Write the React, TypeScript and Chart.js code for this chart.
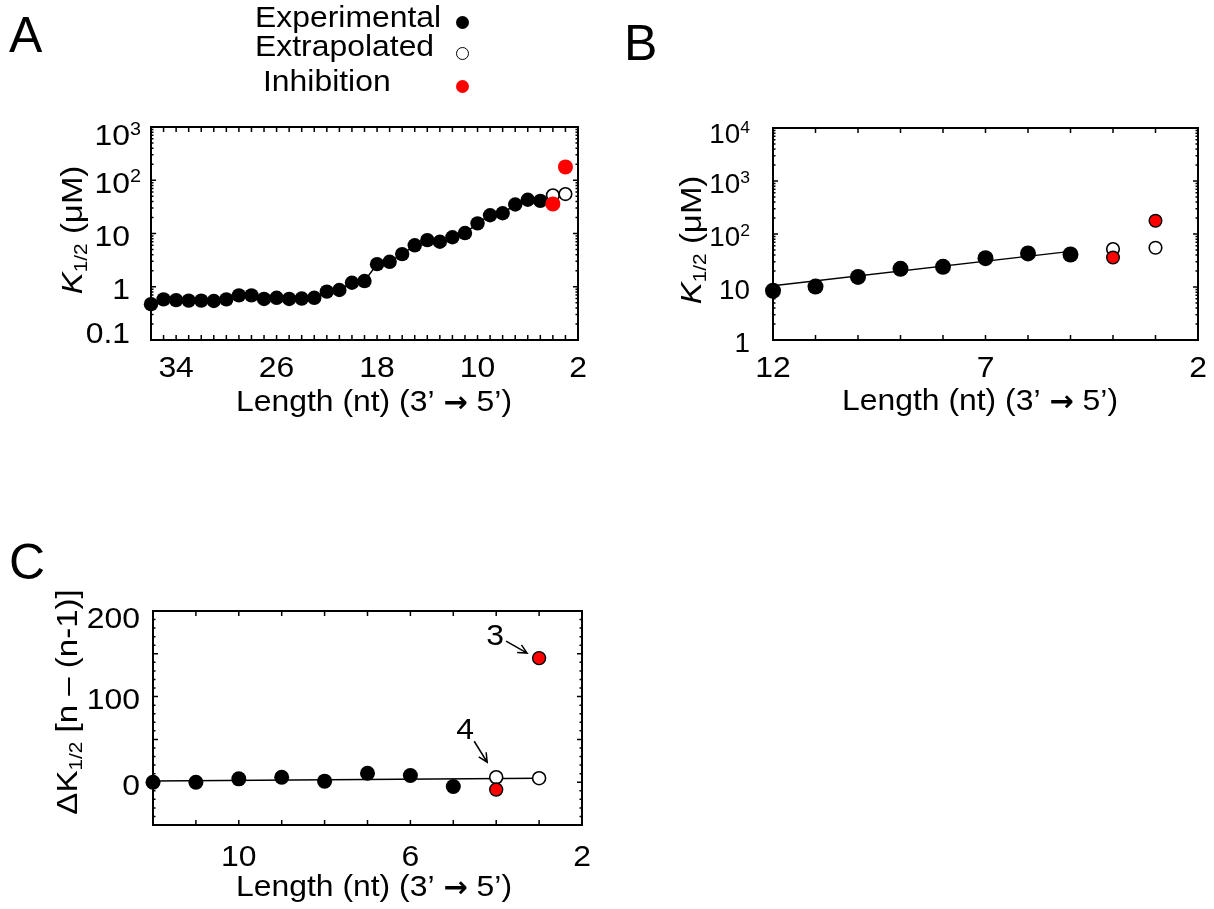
import React, { useEffect, useRef } from 'react';
import { Chart, registerables } from 'chart.js';

Chart.register(...registerables);

// ---------------- data ----------------
const expLengths = [36, 35, 34, 33, 32, 31, 30, 29, 28, 27, 26, 25, 24, 23, 22, 21, 20, 19, 18, 17, 16, 15, 14, 13, 12, 11, 10, 9, 8, 7, 6, 5];
const expK = [0.47, 0.58, 0.56, 0.55, 0.55, 0.54, 0.58, 0.69, 0.69, 0.59, 0.62, 0.59, 0.6, 0.62, 0.81, 0.87, 1.19, 1.28, 2.66, 2.94, 4.1, 6.0, 7.5, 7.0, 8.5, 10.2, 15.5, 22, 24, 35, 43, 41];
const extrapLengths = [4, 3];
const extrapK = [52, 55];
const inhibLengths = [4, 3];
const inhibK = [36, 178];
const fitBLengths = [12, 5];
const fitBK = [10.6, 47];

const deltaLengths = [12, 11, 10, 9, 8, 7, 6, 5];
const deltaK = [0, 0, 3.9, 5.8, 1.2, 10.5, 7.8, -5];
const deltaExtrapLengths = [4, 3];
const deltaExtrapK = [5.8, 4.7];
const deltaInhibLengths = [4, 3];
const deltaInhibK = [-8.6, 145];
const fitCLengths = [12, 3];
const fitCK = [1.5, 4.7];
const annotLabels = ['3', '4'];
const annotLengths = [3, 4];
const annotK = [145, 5.8];

const ticksAX = [34, 26, 18, 10, 2];
const ticksAY = [0.1, 1, 10, 100, 1000];
const ticksBX = [12, 7, 2];
const ticksBY = [1, 10, 100, 1000, 10000];
const ticksCX = [10, 6, 2];
const ticksCY = [0, 100, 200];

const legendLabels = ['Experimental', 'Extrapolated', 'Inhibition'];
const panelLetters = ['A', 'B', 'C'];
const xTitleParts = ['Length (nt) (3\u2019 ', '\u2192', ' 5\u2019)'];

// ---------------- drawing helpers ----------------
const W = 1214;
const H = 909;
const FONT = '"Liberation Sans", Arial, Helvetica, sans-serif';
const ARROW_FONT = '"DejaVu Sans", sans-serif';
const SX = 1.1;
const FS = 29;

type Run = { t: string; size: number; dy?: number; italic?: boolean; family?: string; bold?: boolean; sx?: number };

function setFont(ctx: CanvasRenderingContext2D, r: Run) {
  ctx.font = `${r.italic ? 'italic ' : ''}${r.bold ? 'bold ' : ''}${r.size}px ${r.family || FONT}`;
}
function runsWidth(ctx: CanvasRenderingContext2D, runs: Run[]) {
  let w = 0;
  for (const r of runs) {
    setFont(ctx, r);
    w += ctx.measureText(r.t).width * (r.sx ?? SX);
  }
  return w;
}
function drawRuns(ctx: CanvasRenderingContext2D, runs: Run[], x: number, y: number, align: string) {
  const w = runsWidth(ctx, runs);
  let cx = align === 'right' ? x - w : align === 'center' ? x - w / 2 : x;
  for (const r of runs) {
    setFont(ctx, r);
    const sx = r.sx ?? SX;
    const rw = ctx.measureText(r.t).width;
    ctx.save();
    ctx.translate(cx, y + (r.dy || 0));
    ctx.scale(sx, 1);
    ctx.textAlign = 'left';
    ctx.textBaseline = 'alphabetic';
    ctx.fillStyle = '#000';
    ctx.fillText(r.t, 0, 0);
    ctx.restore();
    cx += rw * sx;
  }
}

const xTitleRuns: Run[] = [
  { t: xTitleParts[0], size: FS },
  { t: xTitleParts[1], size: 29, family: ARROW_FONT, bold: true, sx: 1.0, dy: 1 },
  { t: xTitleParts[2], size: FS },
];

const pts = (xs: number[], ys: number[]) => xs.map((x, i) => ({ x, y: ys[i] }));

type PanelCfg = {
  key: string;
  logY: boolean;
  xLabels: number[];
  yLabels: number[];
  labelRight: number;
  alignBase: boolean;
  yFs: number;
  ySx: number;
  xLabelDy: number;
  clampTop: number;
  clampBottom: number;
  xTitleX: number;
  xTitleY: number;
  yTitleX: number;
  yTitleY: number;
  yTitle: Run[];
  annotations?: boolean;
};

function panelPlugin(cfg: PanelCfg) {
  return {
    id: 'panel' + cfg.key,
    beforeDatasetsDraw(chart: any) {
      const { ctx, chartArea: a } = chart;
      const xs = chart.scales.x;
      const ys = chart.scales.y;
      ctx.save();
      ctx.strokeStyle = '#000';
      ctx.lineWidth = 1.5;
      ctx.beginPath();
      for (let v = Math.ceil(xs.min); v <= xs.max; v += 1) {
        const px = xs.getPixelForValue(v);
        ctx.moveTo(px, a.bottom);
        ctx.lineTo(px, a.bottom - 5);
        ctx.moveTo(px, a.top);
        ctx.lineTo(px, a.top + 5);
      }
      const yt: [number, number][] = [];
      if (cfg.logY) {
        const e0 = Math.round(Math.log10(ys.min));
        const e1 = Math.round(Math.log10(ys.max));
        for (let e = e0; e <= e1; e++) {
          const d = Math.pow(10, e);
          yt.push([d, 5]);
          if (e < e1) for (let k = 2; k <= 9; k++) yt.push([k * d, 2.5]);
        }
      } else {
        for (let v = ys.min; v <= ys.max; v += 10) yt.push([v, v % 50 === 0 ? 5 : 2.5]);
      }
      for (const [v, len] of yt) {
        const py = ys.getPixelForValue(v);
        ctx.moveTo(a.left, py);
        ctx.lineTo(a.left + len, py);
        ctx.moveTo(a.right, py);
        ctx.lineTo(a.right - len, py);
      }
      ctx.stroke();
      ctx.lineWidth = 2;
      ctx.strokeRect(a.left, a.top, a.right - a.left, a.bottom - a.top);
      ctx.restore();
    },
    afterDraw(chart: any) {
      const { ctx, chartArea: a } = chart;
      const xs = chart.scales.x;
      const ys = chart.scales.y;
      ctx.save();
      // x tick labels
      for (const v of cfg.xLabels) {
        drawRuns(ctx, [{ t: String(v), size: FS }], xs.getPixelForValue(v), a.bottom + cfg.xLabelDy, 'center');
      }
      // y tick labels
      for (const v of cfg.yLabels) {
        let cy = ys.getPixelForValue(v) + 2;
        cy = Math.max(cy, a.top + cfg.clampTop);
        cy = Math.min(cy, a.bottom - cfg.clampBottom);
        const base = cfg.yFs * 0.716 / 2;
        let runs: Run[];
        if (cfg.logY && v >= 100) {
          runs = [
            { t: '10', size: cfg.yFs, sx: cfg.ySx },
            { t: String(Math.round(Math.log10(v))), size: Math.round(cfg.yFs * 0.62), dy: -cfg.yFs * 0.35, sx: cfg.ySx },
          ];
        } else {
          runs = [{ t: String(v), size: cfg.yFs, sx: cfg.ySx }];
        }
        if (cfg.alignBase) {
          const bw = runsWidth(ctx, [runs[0]]);
          drawRuns(ctx, runs, cfg.labelRight - bw, cy + base, 'left');
        } else {
          drawRuns(ctx, runs, cfg.labelRight, cy + base, 'right');
        }
      }
      // x title
      drawRuns(ctx, xTitleRuns, cfg.xTitleX, cfg.xTitleY, 'center');
      // y title (rotated)
      ctx.save();
      ctx.translate(cfg.yTitleX, cfg.yTitleY);
      ctx.rotate(-Math.PI / 2);
      drawRuns(ctx, cfg.yTitle, 0, 0, 'center');
      ctx.restore();
      // annotations
      if (cfg.annotations) {
        const offs = [
          { tx: -44, ty: -12.6, ax0: -33, ay0: -17, ax1: -12, ay1: -5 },
          { tx: -31, ty: -38.7, ax0: -22, ay0: -36, ax1: -9, ay1: -15 },
        ];
        annotLabels.forEach((lab, i) => {
          const px = xs.getPixelForValue(annotLengths[i]);
          const py = ys.getPixelForValue(annotK[i]);
          const o = offs[i];
          drawRuns(ctx, [{ t: lab, size: FS }], px + o.tx, py + o.ty, 'center');
          const x0 = px + o.ax0, y0 = py + o.ay0, x1 = px + o.ax1, y1 = py + o.ay1;
          const ang = Math.atan2(y1 - y0, x1 - x0);
          ctx.strokeStyle = '#000';
          ctx.lineWidth = 1.5;
          ctx.beginPath();
          ctx.moveTo(x0, y0);
          ctx.lineTo(x1, y1);
          ctx.moveTo(x1 - 10 * Math.cos(ang - 0.45), y1 - 10 * Math.sin(ang - 0.45));
          ctx.lineTo(x1, y1);
          ctx.lineTo(x1 - 10 * Math.cos(ang + 0.45), y1 - 10 * Math.sin(ang + 0.45));
          ctx.stroke();
        });
      }
      ctx.restore();
    },
  };
}

function scatterSet(data: any[], r: number, fill: string, bw: number) {
  return {
    data,
    showLine: false,
    pointRadius: r,
    pointHoverRadius: r,
    pointBackgroundColor: fill,
    backgroundColor: fill,
    pointBorderColor: '#000',
    pointBorderWidth: bw,
    borderWidth: bw,
    clip: false,
  };
}
function lineSet(data: any[]) {
  return {
    data,
    showLine: true,
    pointRadius: 0,
    pointHoverRadius: 0,
    borderColor: '#000',
    borderWidth: 1.5,
    fill: false,
    clip: false,
  };
}

function makeChart(canvas: HTMLCanvasElement, datasets: any[], padding: any, scales: any, cfg: PanelCfg) {
  return new Chart(canvas, {
    type: 'scatter',
    data: { datasets },
    options: {
      responsive: false,
      animation: false,
      events: [],
      layout: { padding },
      scales,
      plugins: { legend: { display: false }, tooltip: { enabled: false } },
    } as any,
    plugins: [panelPlugin(cfg) as any],
  });
}

const kTitle: Run[] = [
  { t: 'K', size: 30, italic: true },
  { t: '1/2', size: 19, dy: 5 },
  { t: ' (\u03bcM)', size: 30 },
];
const dTitle: Run[] = [
  { t: '\u0394K', size: 30 },
  { t: '1/2', size: 19, dy: 5 },
  { t: ' [n \u2013 (n-1)]', size: 30 },
];

function buildA(canvas: HTMLCanvasElement) {
  const exp = pts(expLengths, expK);
  return makeChart(
    canvas,
    [
      scatterSet(pts(inhibLengths, inhibK), 7.5, '#ff0000', 0),
      scatterSet(pts(extrapLengths, extrapK), 6.3, '#ffffff', 1.6),
      scatterSet(exp, 7.2, '#000000', 0),
      lineSet(exp),
    ],
    { left: 151, top: 127, right: W - 578, bottom: H - 340 },
    {
      x: { type: 'linear', min: 2, max: 36, reverse: true, display: false },
      y: { type: 'logarithmic', min: 0.1, max: 1000, display: false },
    },
    {
      key: 'A', logY: true, xLabels: ticksAX, yLabels: ticksAY, labelRight: 130, alignBase: true,
      yFs: FS, ySx: SX, xLabelDy: 37,
      clampTop: 8, clampBottom: 7, xTitleX: 374, xTitleY: 411, yTitleX: 82, yTitleY: 230, yTitle: kTitle,
    }
  );
}

function buildB(canvas: HTMLCanvasElement) {
  const sub = expLengths.map((l, i) => ({ x: l, y: expK[i] })).filter((p) => p.x <= 12);
  return makeChart(
    canvas,
    [
      scatterSet(pts(inhibLengths, inhibK), 6.3, '#ff0000', 1.4),
      scatterSet(pts(extrapLengths, extrapK), 6.3, '#ffffff', 1.6),
      scatterSet(sub, 8, '#000000', 0),
      lineSet(pts(fitBLengths, fitBK)),
    ],
    { left: 773, top: 128, right: W - 1198, bottom: H - 340 },
    {
      x: { type: 'linear', min: 2, max: 12, reverse: true, display: false },
      y: { type: 'logarithmic', min: 1, max: 10000, display: false },
    },
    {
      key: 'B', logY: true, xLabels: ticksBX, yLabels: ticksBY, labelRight: 750, alignBase: false,
      yFs: 27, ySx: 1.03, xLabelDy: 37,
      clampTop: 5, clampBottom: -50, xTitleX: 980, xTitleY: 410, yTitleX: 701, yTitleY: 240, yTitle: kTitle,
    }
  );
}

function buildC(canvas: HTMLCanvasElement) {
  return makeChart(
    canvas,
    [
      scatterSet(pts(deltaInhibLengths, deltaInhibK), 6.5, '#ff0000', 1.4),
      scatterSet(pts(deltaExtrapLengths, deltaExtrapK), 6.5, '#ffffff', 1.6),
      scatterSet(pts(deltaLengths, deltaK), 7.5, '#000000', 0),
      lineSet(pts(fitCLengths, fitCK)),
    ],
    { left: 153, top: 611, right: W - 582, bottom: H - 825 },
    {
      x: { type: 'linear', min: 2, max: 12, reverse: true, display: false },
      y: { type: 'linear', min: -50, max: 200, display: false },
    },
    {
      key: 'C', logY: false, xLabels: ticksCX, yLabels: ticksCY, labelRight: 140, alignBase: false,
      yFs: FS, ySx: SX, xLabelDy: 41,
      clampTop: 7, clampBottom: -50, xTitleX: 374, xTitleY: 896, yTitleX: 77, yTitleY: 702, yTitle: dTitle,
      annotations: true,
    }
  );
}

function Panel({ build }: { build: (c: HTMLCanvasElement) => Chart }) {
  const ref = useRef<HTMLCanvasElement | null>(null);
  useEffect(() => {
    const chart = build(ref.current as HTMLCanvasElement);
    return () => chart.destroy();
  }, []);
  return (
    <canvas
      ref={ref}
      width={W}
      height={H}
      style={{ position: 'absolute', left: 0, top: 0, width: W, height: H, pointerEvents: 'none' }}
    />
  );
}

const textStyle = (size: number, left: number, baseline: number, sx: number): React.CSSProperties => ({
  position: 'absolute',
  left,
  top: baseline - size * 0.8465,
  fontFamily: FONT,
  fontSize: size,
  lineHeight: `${size}px`,
  whiteSpace: 'nowrap',
  color: '#000',
  transform: `scaleX(${sx})`,
  transformOrigin: '0 0',
  margin: 0,
});

const dot = (cx: number, cy: number, d: number, fill: string, border: number): React.CSSProperties => ({
  position: 'absolute',
  left: cx - d / 2,
  top: cy - d / 2,
  width: d,
  height: d,
  boxSizing: 'border-box',
  borderRadius: '50%',
  background: fill,
  border: border ? `${border}px solid #000` : 'none',
});

export default function App() {
  const legendPos = [
    { left: 255, base: 28, cy: 22 },
    { left: 255, base: 57, cy: 53 },
    { left: 263, base: 92, cy: 86 },
  ];
  const markerStyles = [
    dot(462, legendPos[0].cy, 13, '#000', 0),
    dot(462, legendPos[1].cy, 13, '#fff', 1.5),
    dot(462, legendPos[2].cy, 13, '#ff0000', 0),
  ];
  const letterPos = [
    { left: 9, base: 52 },
    { left: 624, base: 60 },
    { left: 9, base: 579 },
  ];
  return (
    <div style={{ position: 'absolute', left: 0, top: 0, width: W, height: H, background: '#fff', overflow: 'hidden' }}>
      <Panel build={buildA} />
      <Panel build={buildB} />
      <Panel build={buildC} />
      {legendLabels.map((l, i) => (
        <div key={l} style={textStyle(FS, legendPos[i].left, legendPos[i].base, SX)}>{l}</div>
      ))}
      {markerStyles.map((s, i) => (
        <div key={'m' + i} style={s} />
      ))}
      {panelLetters.map((p, i) => (
        <div key={p} style={textStyle(50, letterPos[i].left, letterPos[i].base, 1)}>{p}</div>
      ))}
    </div>
  );
}
